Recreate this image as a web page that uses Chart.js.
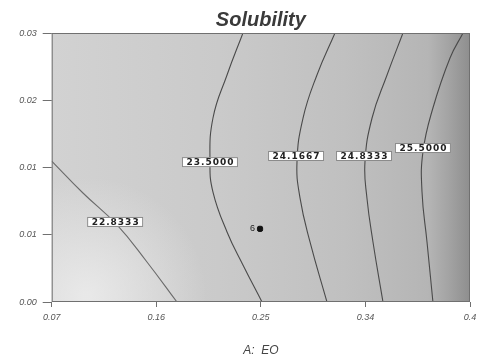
<!DOCTYPE html>
<html>
<head>
<meta charset="utf-8">
<script src="https://cdn.jsdelivr.net/npm/chart.js@4.4.1/dist/chart.umd.min.js"></script>
<style>
  html, body { margin: 0; padding: 0; background: #ffffff; }
  #wrap { width: 478px; height: 358px; }
</style>
</head>
<body>
<div id="wrap"><canvas id="c" width="478" height="358"></canvas></div>
<script>
// Axis ticks
const xTicks = [0.07, 0.16, 0.25, 0.34, 0.43];
const xTickLabels = ['0.07', '0.16', '0.25', '0.34', '0.4'];
const yTicks = [0.0025, 0.00875, 0.015, 0.02125, 0.0275];
const yTickLabels = ['0.00', '0.01', '0.01', '0.02', '0.03'];

// Contour levels of Solubility
const levels = [22.8333, 23.5000, 24.1667, 24.8333, 25.5000];

// Contour traces (A: EO on x, B on y)
const c1X = [0.0700, 0.0969, 0.1262, 0.1520, 0.1778];
const c1Y = [0.0156, 0.01263, 0.00966, 0.00622, 0.0025];
const c2X = [0.2346, 0.2209, 0.2088, 0.2062, 0.2088, 0.2209, 0.2346, 0.2510];
const c2Y = [0.0275, 0.0236, 0.0196, 0.0155, 0.01272, 0.00901, 0.00594, 0.0025];
const c3X = [0.3138, 0.2983, 0.2863, 0.2811, 0.2837, 0.2923, 0.3069];
const c3Y = [0.0275, 0.0236, 0.0196, 0.0155, 0.01217, 0.00808, 0.0025];
const c4X = [0.3723, 0.3586, 0.3457, 0.3396, 0.3413, 0.3465, 0.3551];
const c4Y = [0.0275, 0.0236, 0.0196, 0.0155, 0.01217, 0.00808, 0.0025];
const c5X = [0.4240, 0.4128, 0.3981, 0.3895, 0.3887, 0.3930, 0.3981];
const c5Y = [0.0275, 0.02518, 0.02053, 0.01644, 0.01272, 0.00808, 0.0025];

// Where each level's label sits on its contour
const labelX = [0.1246, 0.2062, 0.2803, 0.3388, 0.3895];
const labelY = [0.00994, 0.0155, 0.01607, 0.01607, 0.01681];

// Design (center) point and its replicate count
const designX = [0.2493];
const designY = [0.0093];
const designCount = ['6'];

const traces = [[c1X, c1Y], [c2X, c2Y], [c3X, c3Y], [c4X, c4Y], [c5X, c5Y]];
const toPoints = (xs, ys) => xs.map((x, i) => ({ x: x, y: ys[i] }));

const contourSets = traces.map((t, i) => ({
  label: String(levels[i]),
  data: toPoints(t[0], t[1]),
  showLine: true,
  borderColor: i === 0 ? '#6a6a6a' : '#4a4a4a',
  borderWidth: 1.1,
  pointRadius: 0,
  tension: 0.45,
  fill: false
}));

// Grey response surface shading behind the contours
const surfacePlugin = {
  id: 'surface',
  beforeDatasetsDraw(chart) {
    const { ctx, chartArea: a } = chart;
    ctx.save();
    const g = ctx.createLinearGradient(a.left, 0, a.right, 0);
    g.addColorStop(0.00, '#d2d2d2');
    g.addColorStop(0.40, '#cacaca');
    g.addColorStop(0.70, '#c0c0c0');
    g.addColorStop(0.90, '#b5b5b5');
    g.addColorStop(0.95, '#a3a3a3');
    g.addColorStop(1.00, '#8e8e8e');
    ctx.fillStyle = g;
    ctx.fillRect(a.left, a.top, a.right - a.left, a.bottom - a.top);
    const r = ctx.createRadialGradient(a.left + 35, a.bottom - 5, 5, a.left + 35, a.bottom - 5, 120);
    r.addColorStop(0, 'rgba(238,238,238,0.8)');
    r.addColorStop(1, 'rgba(238,238,238,0)');
    ctx.fillStyle = r;
    ctx.fillRect(a.left, a.top, a.right - a.left, a.bottom - a.top);
    ctx.restore();
  },
  afterDatasetsDraw(chart) {
    const { ctx, chartArea: a, scales } = chart;
    ctx.save();
    // frame
    ctx.strokeStyle = '#707070';
    ctx.lineWidth = 1;
    ctx.strokeRect(a.left + 0.5, a.top + 0.5, a.right - a.left - 1, a.bottom - a.top - 1);
    // contour labels
    ctx.font = 'bold 9px "DejaVu Sans"';
    ctx.letterSpacing = '1px';
    ctx.textAlign = 'center';
    ctx.textBaseline = 'middle';
    levels.forEach((lv, i) => {
      const px = scales.x.getPixelForValue(labelX[i]);
      const py = scales.y.getPixelForValue(labelY[i]);
      const txt = lv.toFixed(4);
      const w = ctx.measureText(txt).width + 8;
      const h = 10;
      ctx.fillStyle = '#ffffff';
      ctx.fillRect(px - w / 2, py - h / 2, w, h);
      ctx.strokeStyle = '#8a8a8a';
      ctx.strokeRect(px - w / 2 + 0.5, py - h / 2 + 0.5, w - 1, h - 1);
      ctx.fillStyle = '#222222';
      ctx.fillText(txt, px + 0.5, py + 0.5);
    });
    // replicate count next to design point
    ctx.letterSpacing = '0px';
    ctx.font = '9px "Liberation Sans"';
    ctx.fillStyle = '#222222';
    ctx.textAlign = 'right';
    designX.forEach((dx, i) => {
      const px = scales.x.getPixelForValue(dx);
      const py = scales.y.getPixelForValue(designY[i]);
      ctx.fillText(designCount[i], px - 5, py);
    });
    ctx.restore();
  }
};

const tickFont = { family: '"Liberation Sans", Arial, sans-serif', size: 9, style: 'italic' };

new Chart(document.getElementById('c'), {
  type: 'scatter',
  data: {
    datasets: contourSets.concat([{
      label: 'Design point',
      data: toPoints(designX, designY),
      pointRadius: 3,
      pointStyle: 'rectRounded',
      backgroundColor: '#111111',
      borderColor: '#111111',
      showLine: false
    }])
  },
  options: {
    responsive: false,
    animation: false,
    layout: { padding: { left: 0, right: 8, top: 0, bottom: 0 } },
    plugins: {
      legend: { display: false },
      tooltip: { enabled: false },
      title: {
        display: true,
        text: 'Solubility',
        fullSize: false,
        color: '#3a3a3a',
        font: { family: '"Liberation Sans", Arial, sans-serif', size: 20, style: 'italic', weight: '600' },
        padding: { top: 8, bottom: 1 }
      }
    },
    scales: {
      x: {
        type: 'linear',
        min: 0.07,
        max: 0.43,
        afterBuildTicks(s) { s.ticks = xTicks.map(v => ({ value: v })); },
        afterFit(s) { s.height = 56; s.paddingLeft = 0; s.paddingRight = 0; },
        ticks: {
          callback: (v, i) => xTickLabels[i],
          color: '#555555',
          font: tickFont,
          padding: 5,
          maxRotation: 0,
          autoSkip: false
        },
        grid: { drawOnChartArea: false, tickLength: 5, color: '#707070' },
        border: { display: false },
        title: {
          display: true,
          text: 'A:  EO',
          color: '#444444',
          font: { family: '"Liberation Sans", Arial, sans-serif', size: 12, style: 'italic' },
          padding: { top: 0, bottom: 0 }
        }
      },
      y: {
        type: 'linear',
        min: 0.0025,
        max: 0.0275,
        afterBuildTicks(s) { s.ticks = yTicks.map(v => ({ value: v })); },
        afterFit(s) { s.width = 51.7; s.paddingTop = 0; s.paddingBottom = 0; },
        ticks: {
          callback: (v, i) => yTickLabels[i],
          color: '#555555',
          font: tickFont,
          padding: 6,
          autoSkip: false
        },
        grid: { drawOnChartArea: false, tickLength: 9, color: '#707070' },
        border: { display: false }
      }
    }
  },
  plugins: [surfacePlugin]
});
</script>
</body>
</html>
